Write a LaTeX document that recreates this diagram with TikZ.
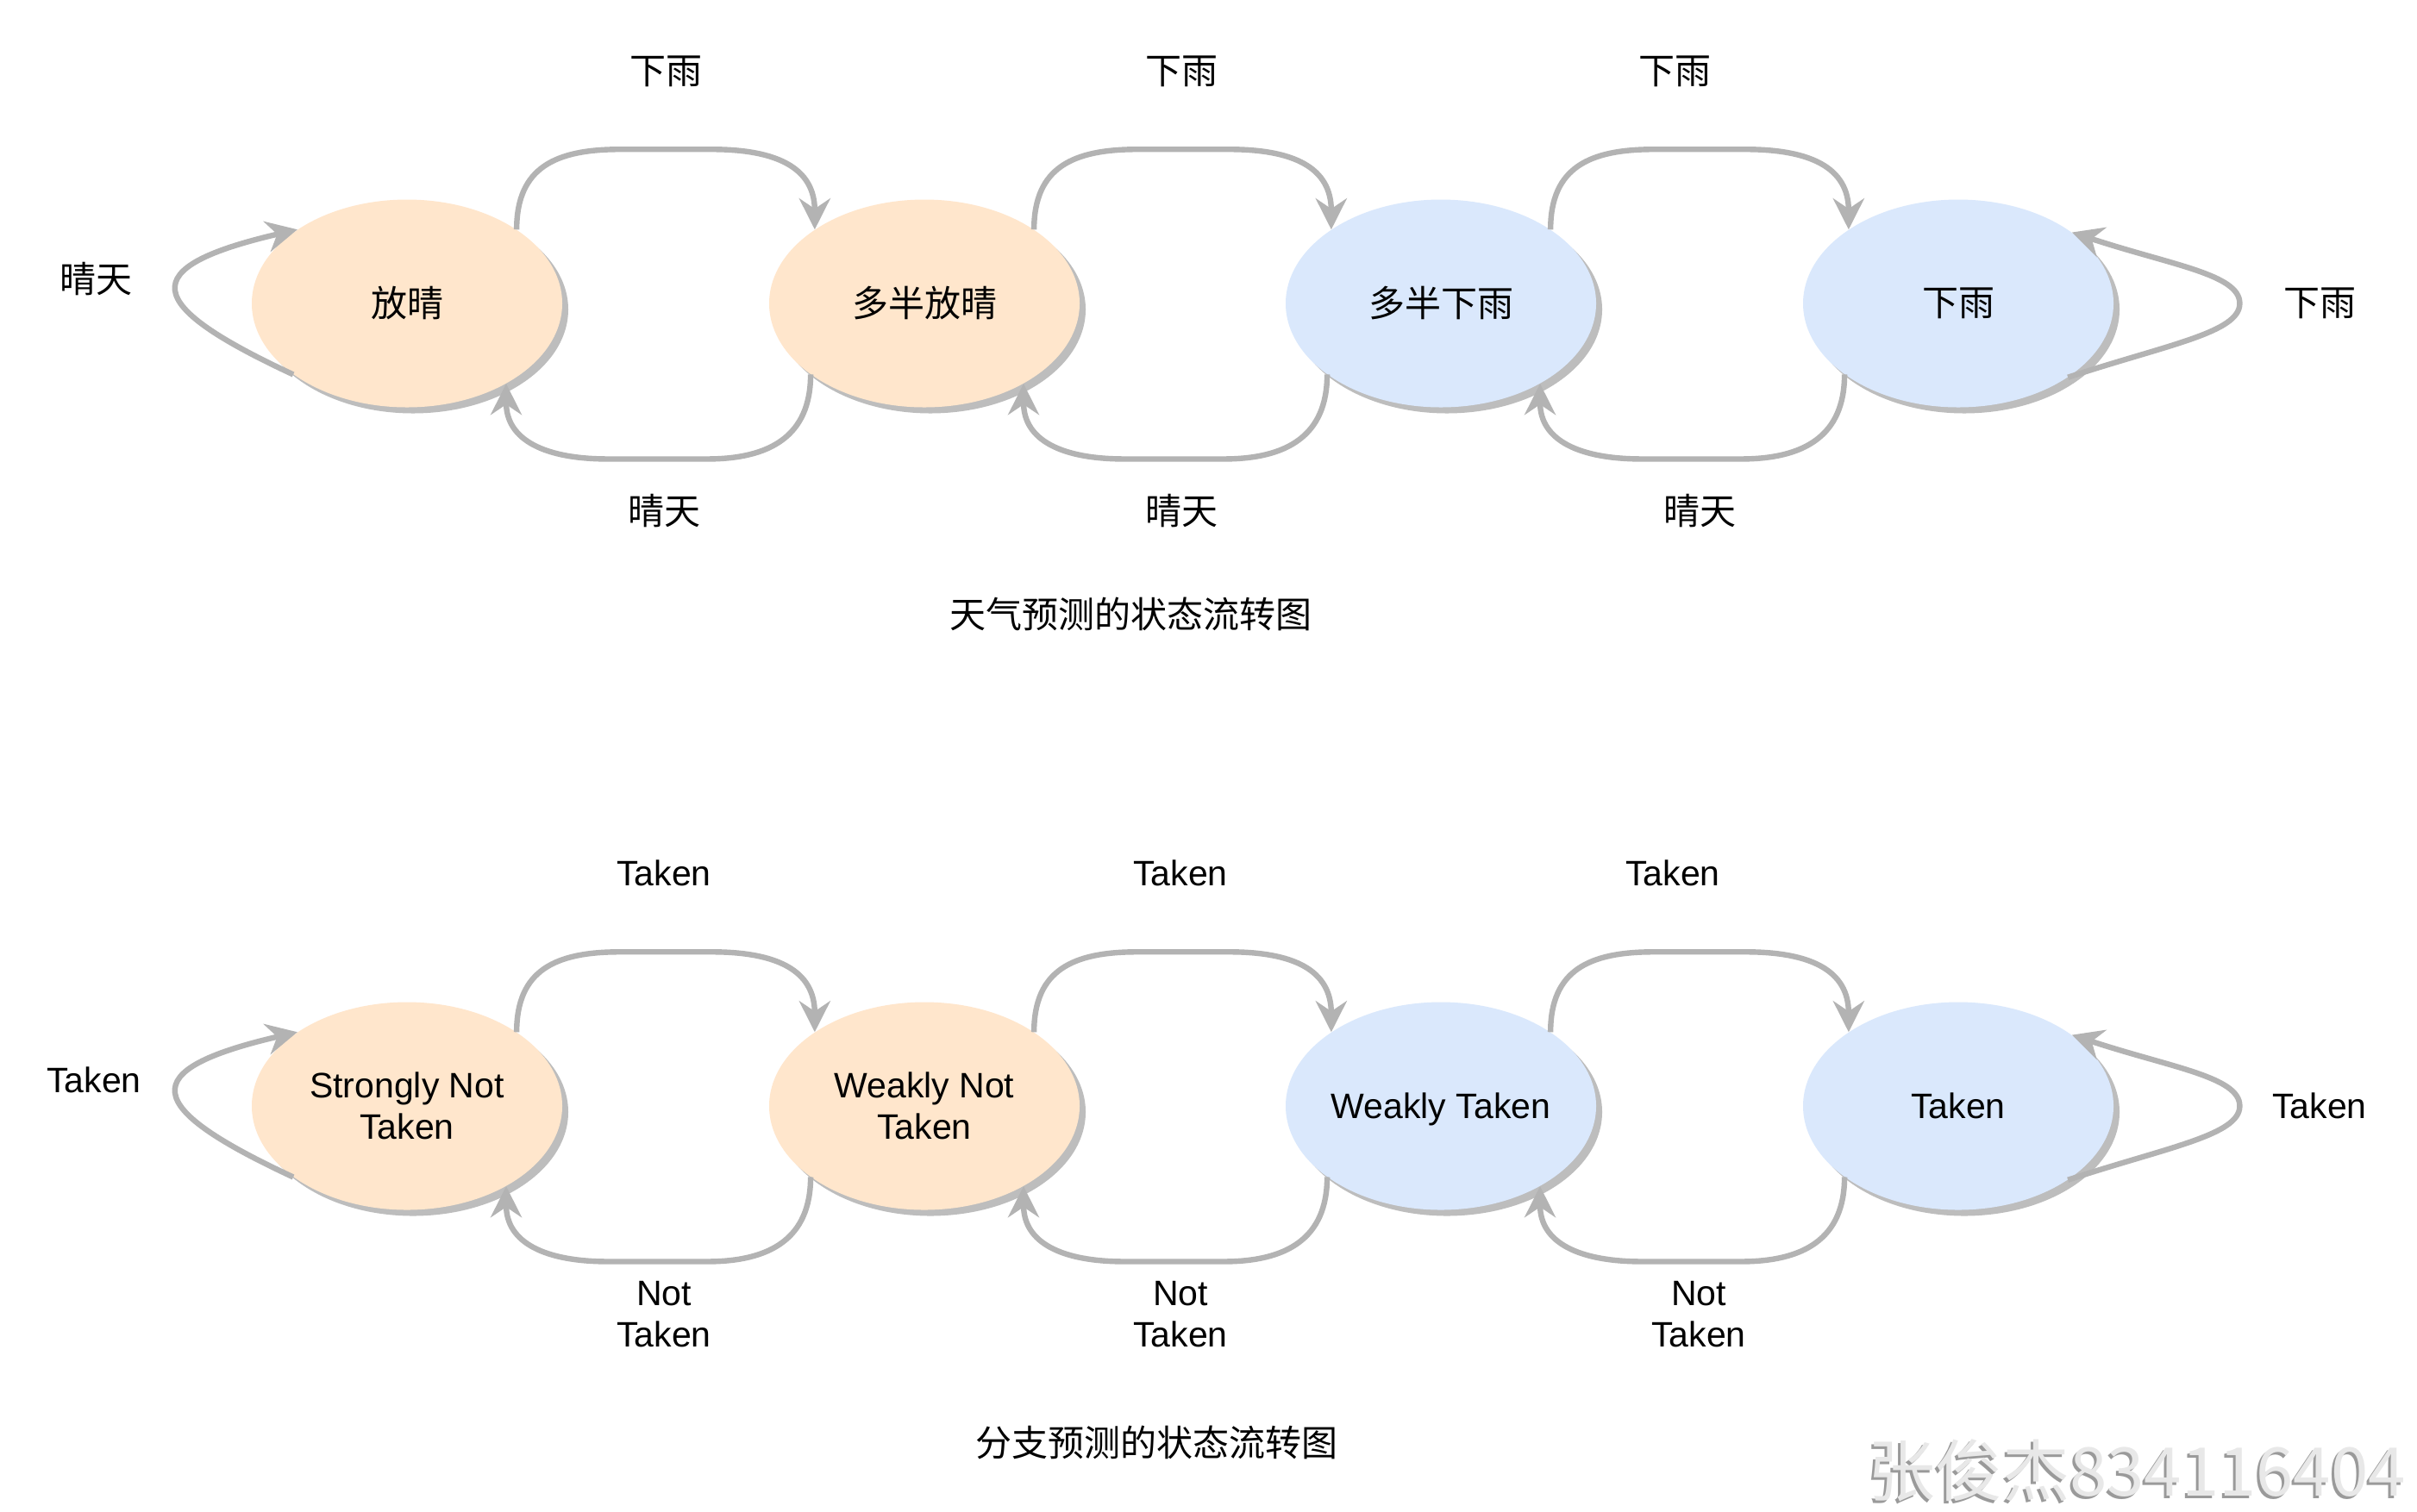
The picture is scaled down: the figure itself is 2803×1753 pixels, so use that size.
\documentclass[tikz,border=0pt]{standalone}
\usepackage{fontspec}
\setmainfont{Liberation Sans}
\newfontfamily\cjk{Noto Sans CJK SC}
\usetikzlibrary{shapes.geometric,arrows.meta,shadows}
\definecolor{peach}{HTML}{FFE6CC}
\definecolor{lblue}{HTML}{DAE8FC}
\definecolor{arrgray}{HTML}{B3B3B3}
\definecolor{shgray}{HTML}{BDBDBD}
\definecolor{wmlight}{HTML}{E8E8E8}
\definecolor{wmdark}{HTML}{9A9A9A}
\newcommand\labfont{\fontsize{20.5}{24}\selectfont}
\newcommand\zhfont{\cjk\fontsize{21}{25}\selectfont}
\newcommand\wmfont{\cjk\fontsize{39}{40}\selectfont}
\begin{document}
\begin{tikzpicture}[x=0.5pt,y=-0.5pt,
  state/.style={ellipse, minimum width=180pt, minimum height=120.5pt, inner sep=0pt, align=center,
    drop shadow={shadow xshift=3.5pt, shadow yshift=-3.5pt, fill=shgray, opacity=1}},
  warm/.style={state, fill=peach},
  cool/.style={state, fill=lblue},
  arr/.style={draw=arrgray, line width=3.2pt, -{Stealth[length=18pt,width=18pt,inset=6pt]}},
  zh/.style={font=\zhfont, inner sep=0pt},
  en/.style={font=\labfont, inner sep=0pt, align=center}
]
\useasboundingbox[fill=white] (0,0) rectangle (2803,1753);

% ---------- weather diagram ----------
\node[warm, zh] (a1) at (472,352) {放晴};
\node[warm, zh] (a2) at (1072,352) {多半放晴};
\node[cool, zh] (a3) at (1671,352) {多半下雨};
\node[cool, zh] (a4) at (2271,352) {下雨};

\foreach \p/\q in {a1/a2, a2/a3, a3/a4}{
  \draw[arr] (\p.34) .. controls +(0,-72) and +(-75,0) .. ++(120,-93) -- ++(106,0)
     .. controls +(75,0) and +(0,-72) .. (\q.146);
  \draw[arr] (\q.212) .. controls +(0,72) and +(72,0) .. ++(-120,98) -- ++(-115,0)
     .. controls +(-72,0) and +(0,66) .. (\p.321);
}
\draw[arr] (a1.212) .. controls +(-176,-82) and +(-189,44) .. (a1.146);
\draw[arr] (a4.326) .. controls +(115,-38) and +(0,34) .. ([xshift=73pt]a4.east)
   .. controls +(0,-34) and +(115,38) .. (a4.32);

\node[zh] (la1) at (772,83) {下雨};
\node[zh] (la2) at (1370,83) {下雨};
\node[zh] (la3) at (1942,83) {下雨};
\node[zh] (lb1) at (770,592) {晴天};
\node[zh] (lb2) at (1370,592) {晴天};
\node[zh] (lb3) at (1971,592) {晴天};
\node[zh] (ll) at (111,324) {晴天};
\node[zh] (lr) at (2690,352) {下雨};
\node[zh] (cap1) at (1311,712) {天气预测的状态流转图};

% ---------- branch diagram ----------
\node[warm, en] (b1) at (472,1283) {Strongly Not\\Taken};
\node[warm, en] (b2) at (1072,1283) {Weakly Not\\Taken};
\node[cool, en, text depth=0pt] (b3) at (1671,1283) {Weakly Taken};
\node[cool, en] (b4) at (2271,1283) {Taken};

\foreach \p/\q in {b1/b2, b2/b3, b3/b4}{
  \draw[arr] (\p.34) .. controls +(0,-72) and +(-75,0) .. ++(120,-93) -- ++(106,0)
     .. controls +(75,0) and +(0,-72) .. (\q.146);
  \draw[arr] (\q.212) .. controls +(0,72) and +(72,0) .. ++(-120,98) -- ++(-115,0)
     .. controls +(-72,0) and +(0,66) .. (\p.321);
}
\draw[arr] (b1.212) .. controls +(-176,-82) and +(-189,44) .. (b1.146);
\draw[arr] (b4.326) .. controls +(115,-38) and +(0,34) .. ([xshift=73pt]b4.east)
   .. controls +(0,-34) and +(115,38) .. (b4.32);

\node[en] (ta1) at (770,1013) {Taken};
\node[en] (ta2) at (1369,1013) {Taken};
\node[en] (ta3) at (1940,1013) {Taken};
\node[en] (nt1) at (770,1525) {Not\\Taken};
\node[en] (nt2) at (1369,1525) {Not\\Taken};
\node[en] (nt3) at (1970,1525) {Not\\Taken};
\node[en] (tl) at (109,1253) {Taken};
\node[en] (tr) at (2690,1283) {Taken};
\node[zh] (cap2) at (1341,1673) {分支预测的状态流转图};

% ---------- watermark ----------
\node[font=\wmfont, text=wmdark, inner sep=0pt] (wm1) at (2475,1709) {张俊杰834116404};
\node[font=\wmfont, text=wmlight, inner sep=0pt] (wm2) at (2478,1706) {张俊杰834116404};
\end{tikzpicture}
\end{document}
